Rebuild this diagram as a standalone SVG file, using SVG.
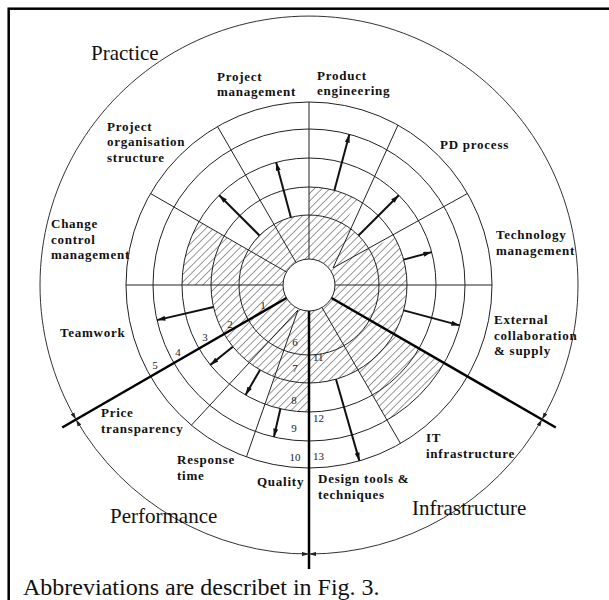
<svg xmlns="http://www.w3.org/2000/svg" width="609" height="600" viewBox="0 0 609 600">
<defs>
<pattern id="hatch" patternUnits="userSpaceOnUse" width="5.4" height="5.4" patternTransform="rotate(45)">
<line x1="0" y1="0" x2="0" y2="5.4" stroke="#333" stroke-width="1"/>
</pattern>
<marker id="ah" viewBox="0 0 10 6" refX="10" refY="3" markerWidth="9" markerHeight="5" markerUnits="userSpaceOnUse" orient="auto">
<path d="M0,0 L10,3 L0,6 z" fill="#111"/>
</marker>
<marker id="sh" viewBox="0 0 10 6" refX="10" refY="3" markerWidth="7" markerHeight="4.5" markerUnits="userSpaceOnUse" orient="auto-start-reverse">
<path d="M0,0 L10,3 L0,6 z" fill="#222"/>
</marker>
</defs>
<style>
.ring{fill:none;stroke:#222;stroke-width:1}
.thin{stroke:#222;stroke-width:1;fill:none}
.thick{stroke:#000;stroke-width:2.5;fill:none}
.arr{stroke:#111;stroke-width:2;fill:none;marker-end:url(#ah)}
.outer{fill:none;stroke:#333;stroke-width:1;marker-start:url(#sh);marker-end:url(#sh)}
.lbl{font-family:"Liberation Serif","Times New Roman",serif;font-weight:bold;font-size:13px;letter-spacing:0.75px;fill:#111}
.big{font-family:"Liberation Serif","Times New Roman",serif;font-size:21px;fill:#111}
.num{font-family:"Liberation Serif","Times New Roman",serif;font-size:11px;fill:#222}
.numc{font-family:"Liberation Serif","Times New Roman",serif;font-size:11px;fill:#222;text-anchor:middle}
</style>
<rect x="0" y="0" width="609" height="600" fill="#fff"/>
<rect x="8.7" y="8.7" width="640" height="640" fill="none" stroke="#000" stroke-width="2.5"/>

<g id="chart" transform="translate(309,285)">
<path id="profile" fill="url(#hatch)" stroke="none" d="M84.9,49 A98,98 0 0 0 84.9,-49 L60.6,-35 A70,70 0 0 0 35,-60.6 L49,-84.9 A98,98 0 0 0 0,-98 L0,-70 A70,70 0 0 0 -60.6,-35 L-110,-63.5 A127,127 0 0 0 -127,0 L-98,0 A98,98 0 0 0 -33.5,92.1 L-43.4,119.3 A127,127 0 0 0 0,127 L0,98 A98,98 0 0 0 49,84.9 L78,135.1 A156,156 0 0 0 135.1,78 Z"/>
<g id="rings">
<circle class="ring" r="70"/>
<circle class="ring" r="98"/>
<circle class="ring" r="127"/>
<circle class="ring" r="156"/>
<circle class="ring" r="183"/>
</g>
<g id="connectors">
<line class="thin" x1="26" y1="0" x2="183" y2="0"/>
<line class="thin" x1="-26" y1="0" x2="-183" y2="0"/>
<line class="thin" x1="0" y1="-26" x2="0" y2="-183"/>
<line class="thin" x1="24" y1="-17" x2="158.5" y2="-91.5"/>
<line class="thin" x1="24" y1="-17" x2="89" y2="-160"/>
<line class="thin" x1="-13" y1="-22.5" x2="-91.5" y2="-158.5"/>
<line class="thin" x1="-22.5" y1="-13" x2="-158.5" y2="-91.5"/>
<line class="thin" x1="-11" y1="25" x2="-117.6" y2="140.2"/>
<line class="thin" x1="-11" y1="25" x2="-62.6" y2="172"/>
<line class="thin" x1="13" y1="22.5" x2="91.5" y2="158.5"/>
<circle r="26" fill="#fff" stroke="#222" stroke-width="1"/>
<line class="thick" x1="-22.5" y1="13" x2="-246.8" y2="142.5"/>
<line class="thick" x1="22.5" y1="13" x2="246.8" y2="142.5"/>
<line class="thick" x1="0" y1="26" x2="0" y2="284"/>
<path class="outer" d="M-233,134.5 A269,269 0 1 1 233,134.5"/>
<path class="outer" d="M-233,134.5 A269,269 0 0 0 0,269"/>
<path class="outer" d="M0,269 A269,269 0 0 0 233,134.5"/>
<line class="arr" x1="-95.5" y1="22" x2="-152" y2="35.1"/>
<line class="arr" x1="-49.5" y1="-49.5" x2="-89.8" y2="-89.8"/>
<line class="arr" x1="-18.1" y1="-67.6" x2="-32.9" y2="-122.7"/>
<line class="arr" x1="25.4" y1="-94.7" x2="40.4" y2="-150.7"/>
<line class="arr" x1="49.5" y1="-49.5" x2="89.8" y2="-89.8"/>
<line class="arr" x1="94.7" y1="-25.4" x2="122.7" y2="-32.9"/>
<line class="arr" x1="94.7" y1="25.4" x2="150.7" y2="40.4"/>
<line class="arr" x1="-76.2" y1="61.7" x2="-98.7" y2="79.9"/>
<line class="arr" x1="-49" y1="84.9" x2="-63.5" y2="110"/>
<line class="arr" x1="-28.6" y1="123.7" x2="-35.1" y2="152"/>
<line class="arr" x1="27" y1="94.2" x2="50.4" y2="175.9"/>
</g>
</g>

<g id="levels">
<text class="numc" x="263" y="309">1</text>
<text class="numc" x="230" y="328">2</text>
<text class="numc" x="205" y="341">3</text>
<text class="numc" x="178" y="356">4</text>
<text class="numc" x="155" y="369">5</text>
<text class="numc" x="295" y="346">6</text>
<text class="numc" x="295" y="372">7</text>
<text class="numc" x="294" y="404">8</text>
<text class="numc" x="294" y="432">9</text>
<text class="numc" x="295" y="461">10</text>
<text class="num" x="313" y="361">11</text>
<text class="num" x="313" y="422">12</text>
<text class="num" x="313" y="460">13</text>
</g>

<g id="region-practice"><text class="big" x="91" y="60">Practice</text></g>
<g id="region-performance"><text class="big" x="110" y="523">Performance</text></g>
<g id="region-infrastructure"><text class="big" x="412" y="515">Infrastructure</text></g>

<g id="node-project-management"><text class="lbl" x="217" y="81">Project</text><text class="lbl" x="217" y="96">management</text></g>
<g id="node-product-engineering"><text class="lbl" x="317" y="80">Product</text><text class="lbl" x="317" y="95">engineering</text></g>
<g id="node-project-organisation"><text class="lbl" x="107" y="131">Project</text><text class="lbl" x="107" y="146">organisation</text><text class="lbl" x="107" y="162">structure</text></g>
<g id="node-pd-process"><text class="lbl" x="440" y="149">PD process</text></g>
<g id="node-change-control"><text class="lbl" x="51" y="228">Change</text><text class="lbl" x="51" y="244">control</text><text class="lbl" x="51" y="259">management</text></g>
<g id="node-technology"><text class="lbl" x="496" y="239">Technology</text><text class="lbl" x="496" y="255">management</text></g>
<g id="node-teamwork"><text class="lbl" x="60" y="337">Teamwork</text></g>
<g id="node-external"><text class="lbl" x="494" y="324">External</text><text class="lbl" x="494" y="340">collaboration</text><text class="lbl" x="494" y="355">&amp; supply</text></g>
<g id="node-price"><text class="lbl" x="101" y="417">Price</text><text class="lbl" x="101" y="433">transparency</text></g>
<g id="node-it"><text class="lbl" x="426" y="442">IT</text><text class="lbl" x="426" y="458">infrastructure</text></g>
<g id="node-response"><text class="lbl" x="177" y="464">Response</text><text class="lbl" x="177" y="480">time</text></g>
<g id="node-quality"><text class="lbl" x="257" y="486">Quality</text></g>
<g id="node-design-tools"><text class="lbl" x="318" y="483">Design tools &amp;</text><text class="lbl" x="318" y="499">techniques</text></g>

<g id="caption"><text font-family="Liberation Serif, Times New Roman, serif" font-size="24" fill="#111" x="23" y="595">Abbreviations are describet in Fig. 3.</text></g>
</svg>
